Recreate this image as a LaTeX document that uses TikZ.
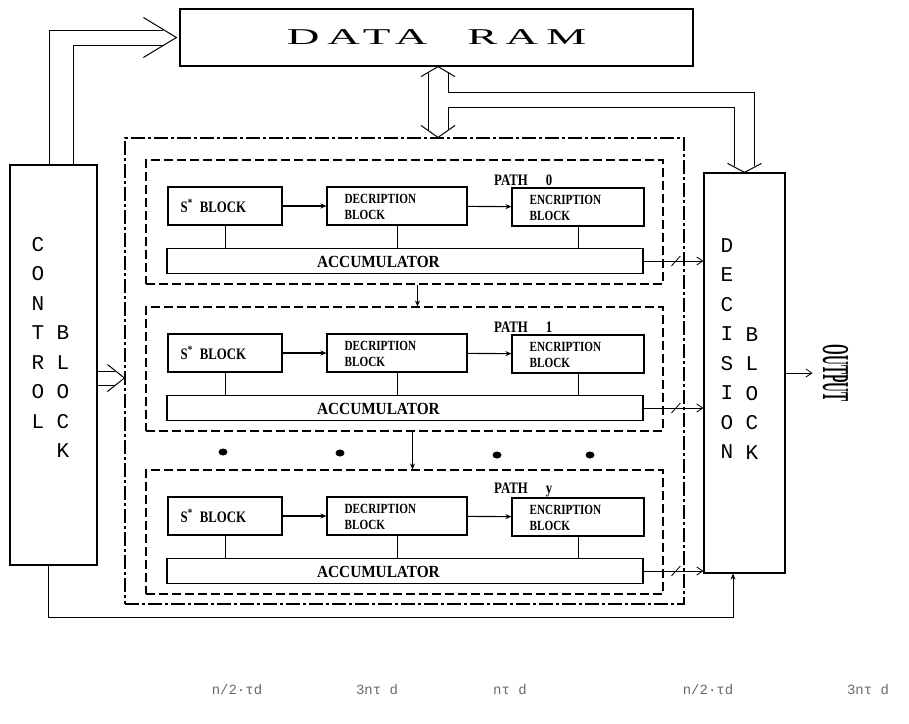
\documentclass[tikz,border=0pt]{standalone}
\usepackage{fontspec}
\setmainfont{Liberation Serif}
\newfontfamily\blkfont{Liberation Serif}[FakeStretch=0.8]
\newfontfamily\accfont{Liberation Serif}[FakeStretch=0.9]
\newfontfamily\outfont{Liberation Serif}[FakeStretch=0.36]
\newfontfamily\ramfont{Liberation Serif}[FakeStretch=2.0,LetterSpace=35]
\newfontfamily\letfont{Liberation Mono}
\usetikzlibrary{arrows.meta, calc}
\definecolor{inkgray}{RGB}{105,105,105}

\begin{document}
\begin{tikzpicture}[x=1pt, y=-1pt, >={Straight Barb[length=6pt,width=8pt]},
  bigbox/.style={draw, line width=1.2pt, inner sep=0pt},
  pbox/.style={draw, line width=1.1pt, dash pattern=on 9pt off 4pt,
               minimum width=517pt, minimum height=124pt, inner sep=0pt},
  obox/.style={draw, line width=1.1pt, dash pattern=on 14pt off 3pt on 3pt off 3pt, inner sep=0pt},
  blk/.style={draw, line width=1.1pt, minimum height=38pt, inner sep=0pt},
  acc/.style={draw, line width=1.1pt, minimum width=476pt, minimum height=25pt, inner sep=0pt},
  lbl/.style={font=\blkfont\bfseries\fontsize{16}{16}\selectfont, inner sep=0pt},
  twol/.style={font=\blkfont\bfseries\fontsize{14}{15.5}\selectfont, align=left, inner sep=0pt},
  tall/.style={font=\letfont\fontsize{21}{29.5}\selectfont, align=center, inner sep=0pt},
  bus/.style={line width=1pt},
  link/.style={line width=0.8pt},
  sm/.style={line width=1.1pt, -{Stealth[length=6pt,width=5pt]}},
  td/.style={font=\letfont\fontsize{14}{14}\selectfont, text=inkgray}]

\useasboundingbox (0,0) rectangle (909,723);

% main blocks
\node[bigbox, minimum width=513pt, minimum height=57pt,
      font=\ramfont\fontsize{22.6}{22.6}\selectfont] (ram) at (436.5,37.5) {DATA\hspace{40pt}RAM};
\node[bigbox, minimum width=87pt, minimum height=400pt] (ctrl) at (53.5,365) {};
\node[tall] (ctrlA) at (38,332.5) {C\\O\\N\\T\\R\\O\\L};
\node[tall] (ctrlB) at (63,392) {B\\L\\O\\C\\K};
\node[bigbox, minimum width=81pt, minimum height=400pt] (dec) at (744.5,373) {};
\node[tall] (decA) at (727,348.5) {D\\E\\C\\I\\S\\I\\O\\N};
\node[tall] (decB) at (752,393.5) {B\\L\\O\\C\\K};
\node[obox, minimum width=559pt, minimum height=466pt] (outer) at (404.5,371) {};

% the paths
\foreach \t/\n/\k in {160/0/0, 307/1/1, 470/2/y}{
  \node[pbox] (p\n) at (404.5,\t+62) {};
  \node[lbl, anchor=west] (l\n) at (494,\t+20) {PATH\hspace{18pt}\k};
  \node[blk, minimum width=114pt] (s\n) at (225,\t+46) {};
  \node[lbl, anchor=west] (st\n) at ($(s\n.west)+(13,0)$) {S\textsuperscript{*}\hspace{7pt}BLOCK};
  \node[blk, minimum width=140pt] (d\n) at (397,\t+46) {};
  \node[twol, anchor=west] (dt\n) at ($(d\n.west)+(18,1)$) {DECRIPTION\\BLOCK};
  \node[blk, minimum width=132pt] (e\n) at (578,\t+47) {};
  \node[twol, anchor=west] (et\n) at ($(e\n.west)+(18,1)$) {ENCRIPTION\\BLOCK};
  \node[acc] (a\n) at (405,\t+101) {};
  \node[font=\accfont\bfseries\fontsize{17}{17}\selectfont, inner sep=0pt] (at\n)
       at ($(a\n.west)+(212,1)$) {ACCUMULATOR};
  \draw[sm] (s\n) -- (d\n);
  \draw[sm] (d\n) -- (e\n);
  \draw[link] (s\n.south) -- (s\n.south |- a\n.north);
  \draw[link] (d\n.south) -- (d\n.south |- a\n.north);
  \draw[link] (e\n.south) -- (e\n.south |- a\n.north);
  \draw[link,->] (a\n.east) -- (a\n.east -| dec.west);
  \draw[link] ($(a\n.east -| dec.west)+(-32,5)$) -- ++(9,-10);
}
\draw[sm] ([xshift=13pt]p0.south) -- ([xshift=13pt]p1.north);
\draw[sm] ([xshift=8pt]p1.south) -- ([xshift=8pt]p2.north);
\foreach \x/\y in {223/452, 340/453, 497/455, 590/455}
  \fill (\x,\y) ellipse [x radius=4.5, y radius=3.5];

% control -> data ram
\coordinate (rtip) at ([xshift=-3pt]ram.west);
\draw[bus] ([xshift=-4.5pt]ctrl.north) |- ([xshift=-13pt,yshift=7.5pt]rtip);
\draw[bus] ([xshift=19.5pt]ctrl.north) |- ([xshift=-13pt,yshift=-7.5pt]rtip);
\draw[bus] ($(rtip)+(-33,-20)$) -- (rtip) -- ($(rtip)+(-33,20)$);

% control -> paths
\coordinate (ctip) at ([yshift=-7pt]outer.west);
\coordinate (cu) at ([yshift=7pt]ctip);
\coordinate (cd) at ([yshift=-7pt]ctip);
\draw[bus] (cu -| ctrl.east) -- ([xshift=-9pt]cu);
\draw[bus] (cd -| ctrl.east) -- ([xshift=-9pt]cd);
\draw[bus] ($(ctip)+(-17,-13.5)$) -- (ctip) -- ($(ctip)+(-17,13.5)$);

% data ram <-> paths, data ram -> decision
\coordinate (rb) at ([xshift=1.5pt]ram.south);
\coordinate (ob) at (rb |- outer.north);
\coordinate (dt) at (dec.north);
\draw[bus] ($(rb)+(-17,10)$) -- (rb) -- ($(rb)+(17,10)$);
\draw[bus] ($(ob)+(-17,-12)$) -- (ob) -- ($(ob)+(17,-12)$);
\draw[bus] ($(rb)+(-10,6)$) -- ($(ob)+(-10,-7)$);
\draw[bus] ($(rb)+(10,6)$) |- ($(dt)+(10,-80)$) -- ($(dt)+(10,-6)$);
\draw[bus] ($(ob)+(10,-7)$) |- ($(dt)+(-10,-65)$) -- ($(dt)+(-10,-6)$);
\draw[bus] ($(dt)+(-17,-9)$) -- (dt) -- ($(dt)+(17,-9)$);

% feedback and output
\draw[link, -{Stealth[length=6pt,width=5pt]}] ([xshift=-5.5pt]ctrl.south) -- ++(0,52) -| ([xshift=-11.5pt]dec.south);
\node[rotate=-90, anchor=south, inner sep=10pt, font=\outfont\bfseries\fontsize{38}{38}\selectfont]
     (out) at ([xshift=27pt]dec.east) {OUTPUT};
\draw[link,->] (dec.east) -- (out.south);

% timing
\node[td] (t1) at (237,690) {n/2·τd};
\node[td] (t2) at (377,690) {3nτ d};
\node[td] (t3) at (510,690) {nτ d};
\node[td] (t4) at (708,690) {n/2·τd};
\node[td] (t5) at (868,690) {3nτ d};

\end{tikzpicture}
\end{document}
